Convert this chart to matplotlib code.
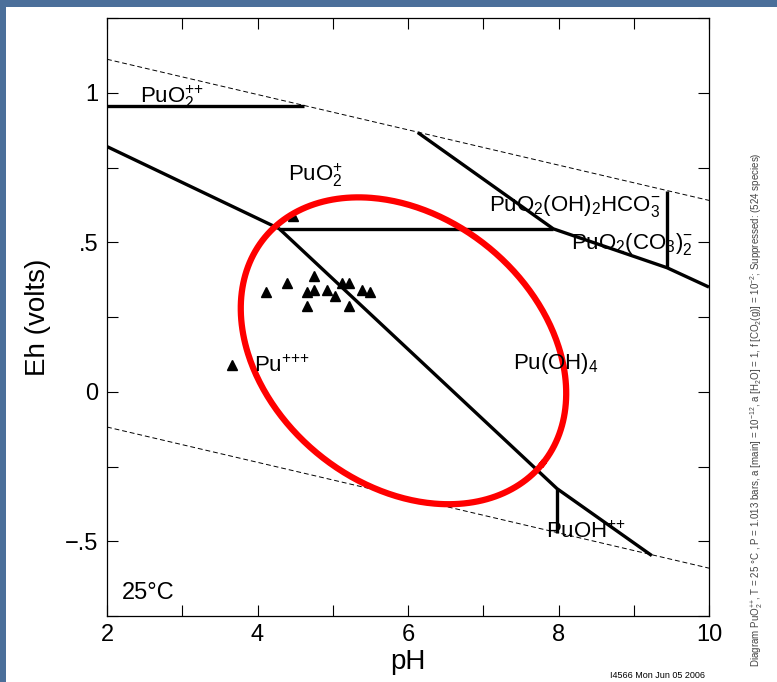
import numpy as np
import matplotlib
matplotlib.use("Agg")
import matplotlib.pyplot as plt
from matplotlib.patches import Rectangle
from matplotlib.ticker import MultipleLocator, FuncFormatter

plt.rcParams['font.family'] = ['Liberation Sans', 'DejaVu Sans']
plt.rcParams['mathtext.fontset'] = 'custom'
plt.rcParams['mathtext.rm'] = 'Liberation Sans'
plt.rcParams['mathtext.it'] = 'Liberation Sans:italic'
plt.rcParams['mathtext.bf'] = 'Liberation Sans:bold'

# water stability limits (pH, Eh)
water_ph = [2, 10]
water_top_eh = [1.112, 0.640]
water_bot_eh = [-0.118, -0.590]

# predominance field boundaries (pH, Eh)
bnd_puo2pp = ([2.0, 4.62], [0.957, 0.957])
bnd_pu3_upper = ([2.0, 4.29], [0.820, 0.545])
bnd_pu3_puoh4 = ([4.29, 7.98, 9.24], [0.545, -0.324, -0.548])
bnd_puo2p = ([4.29, 7.93], [0.545, 0.545])
bnd_carb = ([6.13, 7.93, 9.44, 10.0], [0.867, 0.545, 0.415, 0.350])
bnd_carb_vert = ([9.44, 9.44], [0.673, 0.415])
bnd_puohpp = ([7.98, 7.98], [-0.324, -0.472])

# measured samples
sample_ph = [4.11, 4.39, 4.75, 4.66, 4.75, 4.93, 5.03, 4.66, 5.12, 5.22,
             5.39, 5.49, 5.21, 4.47, 3.66]
sample_eh = [0.332, 0.364, 0.388, 0.332, 0.340, 0.340, 0.321, 0.288, 0.364,
             0.364, 0.340, 0.332, 0.288, 0.589, 0.090]

# species labels
species = [r"PuO$_2^{{+}{+}}$", r"PuO$_2^{+}$", r"Pu$^{{+}{+}{+}}$", r"Pu(OH)$_4$",
           r"PuO$_2$(OH)$_2$HCO$_3^{-}$", r"PuO$_2$(CO$_3$)$_2^{-}$",
           r"PuOH$^{{+}{+}}$"]
species_ph = [2.44, 4.40, 3.95, 7.40, 7.07, 8.17, 7.83]
species_eh = [0.985, 0.725, 0.085, 0.095, 0.620, 0.495, -0.470]

fig = plt.figure(figsize=(7.77, 6.82), dpi=100, facecolor='#4b6f9a')
fig.patches.append(Rectangle((6 / 777, 0), 1, 1 - 7 / 682, transform=fig.transFigure,
                             facecolor='white', edgecolor='none', zorder=-10))

ax = fig.add_axes([107 / 777, 1 - 616 / 682, 602 / 777, 598 / 682])
ax.set_facecolor('white')

ax.plot(water_ph, water_top_eh, '--', color='black', lw=0.7, dashes=(5, 3))
ax.plot(water_ph, water_bot_eh, '--', color='black', lw=0.7, dashes=(5, 3))

for px, ey in [bnd_puo2pp, bnd_pu3_upper, bnd_pu3_puoh4, bnd_puo2p,
               bnd_carb, bnd_carb_vert, bnd_puohpp]:
    ax.plot(px, ey, color='black', lw=2.4, solid_capstyle='butt')

ax.plot(sample_ph, sample_eh, '^', color='black', ms=6.5, ls='none')

for s, px, ey in zip(species, species_ph, species_eh):
    ax.text(px, ey, s, fontsize=16, ha='left', va='center')

# sample field outline, drawn in screen-proportional units
k = (598 / 2.0) / (602 / 8.0)
t = np.linspace(0, 2 * np.pi, 400)
cx, cy, a, b, ang = 5.94, 0.137, 2.38, 1.78, np.radians(-39)
ex = cx + a * np.cos(t) * np.cos(ang) - b * np.sin(t) * np.sin(ang)
ey = cy + (a * np.cos(t) * np.sin(ang) + b * np.sin(t) * np.cos(ang)) / k
ax.plot(ex, ey, color='red', lw=4.5)

ax.text(2.2, -0.672, "25°C", fontsize=17, ha='left', va='center')

ax.set_xlim(2, 10)
ax.set_ylim(-0.75, 1.25)
ax.xaxis.set_major_locator(MultipleLocator(2))
ax.xaxis.set_minor_locator(MultipleLocator(1))
ax.yaxis.set_major_locator(MultipleLocator(0.5))
ax.yaxis.set_minor_locator(MultipleLocator(0.25))


def eh_fmt(v, pos):
    if abs(v) < 1e-9:
        return "0"
    if abs(v - round(v)) < 1e-9:
        return "%d" % round(v)
    s = ("%g" % abs(v)).lstrip("0")
    return ("\u2212" if v < 0 else "") + s


ax.yaxis.set_major_formatter(FuncFormatter(eh_fmt))
ax.tick_params(which='both', direction='in', length=8, width=0.8,
               top=True, right=True, labelsize=17, pad=6)
for sp in ax.spines.values():
    sp.set_linewidth(0.9)

ax.set_xlabel("pH", fontsize=20, labelpad=2)
ax.set_ylabel("Eh (volts)", fontsize=20, labelpad=10)

fig.text(705 / 777, 1 - 675 / 682, "I4566 Mon Jun 05 2006", fontsize=6.5,
         ha='right', va='center')
fig.text(757 / 777, 1 - 410 / 682,
         r"Diagram PuO$_2^{{+}{+}}$, T = 25 °C , P = 1.013 bars, a [main] = 10$^{-12}$, "
         r"a [H$_2$O] = 1, f [CO$_2$(g)] = 10$^{-2}$; Suppressed: (524 species)",
         fontsize=7, rotation=90, ha='center', va='center', color='#444444')

fig.savefig("out.png", dpi=100, facecolor=fig.get_facecolor())
